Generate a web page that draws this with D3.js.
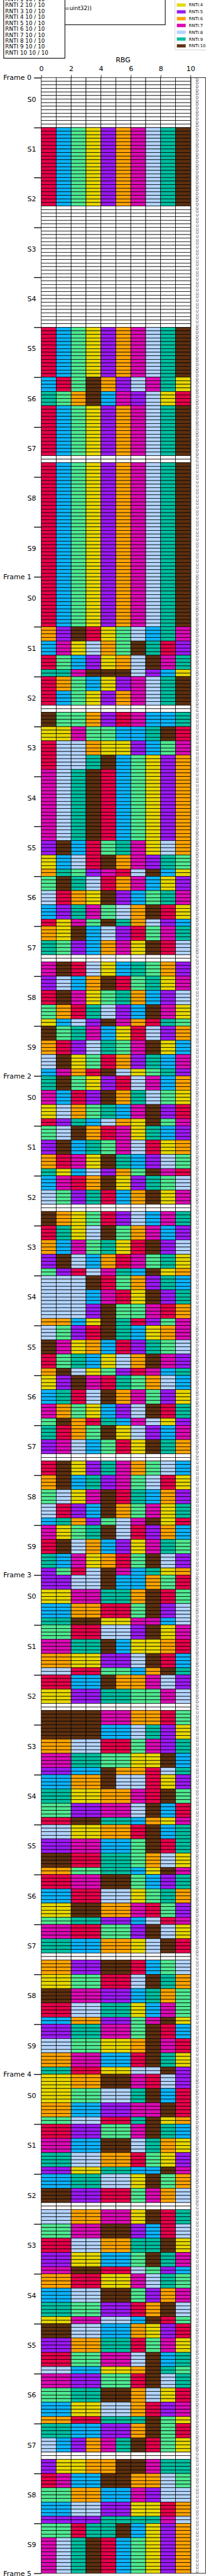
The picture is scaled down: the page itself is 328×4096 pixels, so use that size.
<!DOCTYPE html>
<html><head><meta charset="utf-8">
<script src="https://cdn.jsdelivr.net/npm/d3@7"></script>
<style>html,body{margin:0;padding:0;background:#fff;overflow:hidden}</style>
</head><body>
<svg id="c" width="328" height="4096" viewBox="0 0 400 5000"></svg>
<script>
const rntiNames = ["RNTI:1","RNTI:2","RNTI:3","RNTI:4","RNTI:5","RNTI:6","RNTI:7","RNTI:8","RNTI:9","RNTI:10"];
const rntiColors = ["#e60049","#0bb4ff","#50e991","#e6d800","#9b19f5","#ffa300","#dc0ab4","#b3d4ff","#00bfa0","#5c2f0f"];
const infoLines = ["RNTI 1 10 / 10","RNTI 2 10 / 10","RNTI 3 10 / 10","RNTI 4 10 / 10","RNTI 5 10 / 10","RNTI 6 10 / 10","RNTI 7 10 / 10","RNTI 8 10 / 10","RNTI 9 10 / 10","RNTI 10 10 / 10"];
const infoTail = "dtype=uint32))";
const xTicks = [0,2,4,6,8,10];
const subframeKinds = ["D","D","S","U","U","D","D","S","U","U"];
// each subframe: 4 row groups; chars = RNTI (hex, A=10), 0 = empty
const E = "0000000000", B = "123456789A";
const frame0 = [
  [E,E,E,E],[B,B,B,B],[B,B,E,E],[E,E,E,E],[E,E,E,E],
  [B,B,B,B],["213A658794","936A275841",B,B],[B,B,E,B],[B,B,B,B],[B,B,B,B]
];
const frame1 = [
  [B,B,B,B],["65A1438297","274863A915","1325468A79","997AAA8524"],["163245789A",B,E,"A336517229"],
  ["44733229A1","1886445237","1889A23456","789A123456"],["789A123456","789A123456","789A123456","789A123456"],
  ["789A123456","5A21397486","4281A67593","6935718A24"],
  ["3A98167245","8164A52397","2597386A14","1473A96852"],
  ["64A2851379","9352674A18",E,"7A18429365"],
  ["5826A13947","1A74396258","3619852A74","4285A76193"],
  ["A397241856","6158937A42","8A43165927","2761A84395"]
];
const frame2 = [
  ["9A34518726","7215A69834","4863927A51","1592864A37"],
  ["38A6174925","5A29378146","6174A92583","9428563A71"],
  ["2716A45938","8359126A47",E,"A643158279"],
  ["1948A36725","6273941A58","5A82617394","3518792A46"],
  ["888A136592","8882714A59","8885A33716","6624A91537"],
  ["8351A92467","A746215938","1392486A75","6A84351729"],
  ["45A7193682","2918A67354","7634258A19","3A61927845"],
  ["9163A48527","5782314A96",E,"1A45976382"],
  ["6A29573814","3847A19265","8152A63749","2965387A41"],
  ["7439A81562","1A86254793","9274613A85","5318A72946"]
];
const frame3 = [
  ["5588A22631","4477996A13","2266113A58","99AA447728"],
  ["3311885A47","7799A24461","6644558A12","88113326A9"],
  ["1122A66785","4455993378",E,"AAAA776613"],
  ["AAAA228954","6688113759","77993344A2","5522A66189"],
  ["2266A88145","99446671A3","3355778A21","11AA992647"],
  ["8844661A29","5577223A19","AA11993684","66339924A7"],
  ["1177AA3259","2211884396","44AA667135","3399552817"],
  ["7711335A84","99226648A1",E,"6655AA1238"],
  ["4433118A96","AA77552963","1188994273","22665537A4"],
  ["5599773A12","8833446A71","6677221A94","99114488A5"]
];
const frame4 = [
  ["4466AA7185","4433889A21","66225577A1","3388119A46"],
  ["1155337A92","7722AA8964","9988661345","55449922A7"],
  ["2299884A36","AA55113768",E,"8866774A19"],
  ["3377AA5218","11886699A4","5544223A97","77AA118352"],
  ["6611447893","2288AA3567","99335516A8","4477882A13"],
  ["AA88226451","5566991374","1133778A29","8822446A93"],
  ["7755331A89","3399AA6841","2244886157","6611999A34"],
  ["9922556A31","825679A134",E,"54466AA799"],
  ["1722AA6683","3366227588","2288554416","5555999978"],
  ["33199A2456","789A123456","789A123456","789A123456"]
];
const frames = [frame0, frame1, frame2, frame3, frame4];

const svg = d3.select("#c");
const font = "DejaVu Sans, sans-serif";
const x = d3.scaleLinear().domain([0,10]).range([80,370]);
const y = d3.scaleLinear().domain([0,700]).range([150.8,4994.8]);

const spans = {D:[[0,4],[4,8],[8,12],[12,14]], U:[[0,4],[4,8],[8,12],[12,14]], S:[[0,4],[4,8],[8,10],[10,14]]};
const cells = [];
const letters = [];
frames.forEach((fr,f)=>fr.forEach((sf,s)=>{
  const kind = subframeKinds[s];
  spans[kind].forEach((sp,g)=>{
    for(let r=sp[0]; r<sp[1]; r++){
      const sym = f*140 + s*14 + r;
      for(let c=0;c<10;c++) cells.push({sym, c, v: parseInt(sf[g][c],16)});
    }
  });
  for(let r=0;r<14;r++){
    let L = kind==="D" ? "D" : kind==="U" ? "U" : (r<8?"D":r<10?"G":"U");
    letters.push({sym:f*140+s*14+r, L});
  }
}));

svg.append("g").selectAll("rect").data(cells).join("rect")
  .attr("x", d=>x(d.c)).attr("y", d=>y(d.sym))
  .attr("width", d=>x(d.c+1)-x(d.c)).attr("height", y(1)-y(0))
  .attr("fill", d=>d.v===0 ? "#ffffff" : rntiColors[d.v-1])
  .attr("stroke","#000").attr("stroke-width",0.9);

// right strip with symbol type letters
svg.append("rect").attr("x",371).attr("y",y(0)).attr("width",28.3).attr("height",y(700)-y(0))
  .attr("fill","none").attr("stroke","#000").attr("stroke-width",1);
svg.append("g").selectAll("text").data(letters).join("text")
  .attr("x",383).attr("y",d=>y(d.sym+0.5)+2.7).attr("text-anchor","middle")
  .attr("font-family",font).attr("font-size",7.6).attr("fill","#444").text(d=>d.L);

// x axis (top)
const xa = svg.append("g").attr("transform",`translate(0,${y(0)})`)
  .call(d3.axisTop(x).tickValues(xTicks).tickSize(5).tickPadding(8.3).tickFormat(d3.format("d")));
xa.select(".domain").remove();
xa.selectAll("text").attr("font-family",font).attr("font-size",13.5).attr("fill","#000");
xa.selectAll("line").attr("stroke","#000").attr("stroke-width",1);
svg.append("text").attr("x",239).attr("y",121).attr("text-anchor","middle")
  .attr("font-family",font).attr("font-size",13.5).text("RBG");

// y axis: frames / subframe boundaries
const ya = svg.append("g").attr("transform",`translate(${x(0)},0)`)
  .call(d3.axisLeft(y).tickValues(d3.range(51).map(i=>i*14)).tickSize(14).tickPadding(5)
    .tickFormat(d=> d%140===0 ? "Frame "+(d/140) : ""));
ya.select(".domain").remove();
ya.selectAll("line").attr("stroke","#000").attr("stroke-width",1.6);
ya.selectAll("text").attr("font-family",font).attr("font-size",13.5).attr("fill","#000");
const ys = svg.append("g").attr("transform",`translate(${x(0)},0)`)
  .call(d3.axisLeft(y).tickValues(d3.range(50).map(i=>i*14+6)).tickSize(0).tickPadding(10)
    .tickFormat(d=> "S"+(Math.floor(d/14)%10)));
ys.select(".domain").remove();
ys.selectAll("text").attr("font-family",font).attr("font-size",13.5).attr("fill","#000");

// middle info box (partly hidden)
svg.append("rect").attr("x",100).attr("y",-60).attr("width",221).attr("height",108)
  .attr("fill","#fff").attr("stroke","#000").attr("stroke-width",1.3);
svg.append("text").attr("x",178).attr("y",19).attr("text-anchor","end")
  .attr("font-family",font).attr("font-size",10.8).text(infoTail);
// left info box
svg.append("rect").attr("x",7).attr("y",-60).attr("width",119).attr("height",173)
  .attr("fill","#fff").attr("stroke","#000").attr("stroke-width",1.3);
svg.append("g").selectAll("text").data(infoLines).join("text")
  .attr("x",10).attr("y",(d,i)=>-1.5+i*11.5+4).attr("font-family",font).attr("font-size",10.8).text(d=>d);

// legend
svg.append("rect").attr("x",340).attr("y",-90).attr("width",80).attr("height",187).attr("rx",2)
  .attr("fill","#fff").attr("stroke","#ccc").attr("stroke-width",1);
const lg = svg.append("g").selectAll("g").data(rntiNames).join("g")
  .attr("transform",(d,i)=>`translate(0,${89-(9-i)*13.2})`);
lg.append("rect").attr("x",343.3).attr("y",-3.4).attr("width",17.7).attr("height",6.8)
  .attr("fill",(d,i)=>rntiColors[i]).attr("stroke","#eee").attr("stroke-width",0.5);
lg.append("text").attr("x",367).attr("y",3).attr("font-family",font).attr("font-size",8.2).text(d=>d);
</script>
</body></html>
